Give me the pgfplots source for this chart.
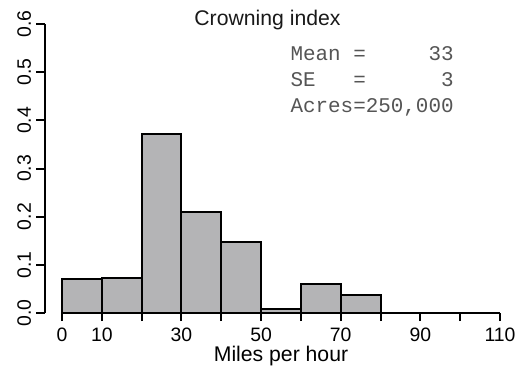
\documentclass[border=0pt]{standalone}
\usepackage{pgfplots}
\pgfplotsset{compat=1.18}
\usepackage{fontspec}
\setmainfont{Liberation Sans}
\setmonofont{Liberation Mono}
\definecolor{barfill}{HTML}{B4B4B6}
\definecolor{boxtext}{HTML}{555555}
\begin{document}
\begin{tikzpicture}
\path[use as bounding box] (-22.25pt,-28pt) rectangle (238.75pt,156.5pt);
\begin{axis}[
  at={(0,0)}, anchor=south west,
  scale only axis, width=236.5pt, height=144.5pt,
  xmin=-4.4, xmax=114.4, ymin=0, ymax=0.6,
  axis x line*=bottom, axis y line*=left,
  axis line style={draw=none},
  tick align=outside, major tick length=4pt,
  tick style={black, line width=1pt},
  xtick={0,10,20,30,40,50,60,70,80,90,100,110},
  xticklabels={0,10,,30,,50,,70,,90,,110},
  ytick={0,0.1,0.2,0.3,0.4,0.5,0.6},
  yticklabels={0.0,0.1,0.2,0.3,0.4,0.5,0.6},
  yticklabel style={rotate=90, anchor=south, inner sep=2.5pt},
  xticklabel style={inner sep=3.5pt},
  tick label style={font=\fontsize{9.7}{11}\selectfont},
  /pgf/number format/assume math mode=true,
  xlabel={Miles per hour},
  xlabel style={at={(axis description cs:0.5,0)}, anchor=base, yshift=-24.4pt, font=\fontsize{10.6}{12}\selectfont, inner sep=0pt},
  clip=false,
]
\addplot[ybar interval, fill=barfill, draw=black, line width=1pt] coordinates {
  (0,0.071) (10,0.073) (20,0.372) (30,0.210) (40,0.147) (50,0.008)
  (60,0.060) (70,0.037) (80,0) (90,0) (100,0) (110,0)
};
\draw[line width=1pt] (axis cs:0,0) -- (axis cs:110,0);
\draw[line width=1pt] (axis cs:-4.4,0) -- (axis cs:-4.4,0.6);
\node[anchor=base, font=\fontsize{10.6}{12}\selectfont, text=black!90] at (axis cs:51.6,0.596) {Crowning index};
\node[anchor=base west, inner sep=0pt, font=\fontsize{10.45}{12}\ttfamily, text=boxtext] at (axis cs:57.3,0.524) {Mean =\hphantom{00000}33};
\node[anchor=base west, inner sep=0pt, font=\fontsize{10.45}{12}\ttfamily, text=boxtext] at (axis cs:57.3,0.471) {SE\hphantom{000}=\hphantom{000000}3};
\node[anchor=base west, inner sep=0pt, font=\fontsize{10.45}{12}\ttfamily, text=boxtext] at (axis cs:57.3,0.417) {Acres=250,000};
\end{axis}
\end{tikzpicture}
\end{document}
